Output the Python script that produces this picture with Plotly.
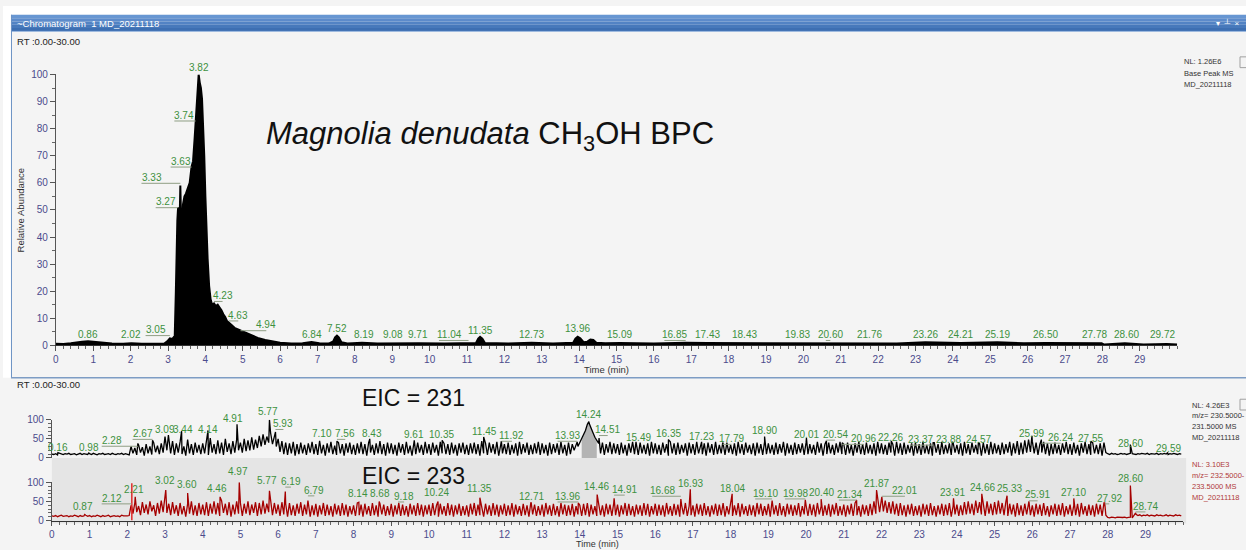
import numpy as np
import plotly.graph_objects as go

W, H = 1246, 550

# ---------------- Base peak chromatogram (relative abundance, %) ----------------
bpc_time = [
    0.00, 0.20, 0.40, 0.55, 0.70, 0.86, 1.00, 1.20, 1.50, 1.80,
    2.02, 2.30, 2.60, 2.90, 2.98, 3.05, 3.12, 3.18, 3.21, 3.23,
    3.25, 3.27, 3.29, 3.31, 3.33, 3.35, 3.37, 3.40, 3.44, 3.48,
    3.53, 3.58, 3.63, 3.67, 3.71, 3.74, 3.77, 3.80, 3.82, 3.85,
    3.88, 3.91, 3.94, 3.97, 4.00, 4.03, 4.06, 4.10, 4.14, 4.18,
    4.23, 4.28, 4.33, 4.38, 4.43, 4.48, 4.53, 4.58, 4.63, 4.70,
    4.78, 4.86, 4.94, 5.05, 5.20, 5.40, 5.60, 5.80, 6.00, 6.30,
    6.60, 6.84, 7.05, 7.30, 7.42, 7.47, 7.52, 7.57, 7.64, 7.80,
    8.19, 8.60, 9.08, 9.71, 10.40, 11.04, 11.24, 11.30, 11.35, 11.41,
    11.48, 12.10, 12.73, 13.30, 13.84, 13.90, 13.96, 14.03, 14.12, 14.22,
    14.30, 14.38, 14.46, 14.70, 15.09, 16.00, 16.85, 17.43, 18.43, 19.20,
    19.83, 20.60, 21.76, 22.50, 23.26, 24.21, 25.19, 25.90, 26.50, 27.20,
    27.78, 27.98, 28.05, 28.60, 29.10, 29.72, 30.00,
]
bpc_abund = [
    0.6, 0.5, 0.8, 1.2, 1.4, 1.5, 1.3, 1.0, 0.7, 0.6,
    0.8, 0.6, 0.6, 0.7, 1.5, 2.6, 2.4, 3.5, 20, 44,
    46, 51, 42, 45, 59, 46, 40, 52, 55, 56,
    58, 60, 66, 68, 76, 83, 90, 97, 100, 97,
    95, 91, 82, 70, 55, 42, 32, 22, 17, 15,
    15.5, 14.5, 15, 14, 13, 11.5, 10.5, 9, 8.5, 7.5,
    6.5, 6, 5.6, 5, 4, 2.8, 2, 1.4, 1.0, 0.7,
    0.8, 1.3, 0.8, 0.7, 1.5, 3, 3.6, 3, 1.2, 0.7,
    1.0, 0.7, 0.8, 0.8, 0.7, 0.9, 0.9, 2.5, 3.2, 2.5,
    0.9, 0.7, 1.0, 0.7, 1.0, 2.5, 3.2, 2.6, 1.2, 1.4,
    2.2, 2.0, 1.0, 0.8, 0.9, 0.7, 1.0, 0.9, 0.9, 0.7,
    0.9, 0.9, 0.8, 0.7, 1.2, 0.9, 1.2, 0.8, 0.9, 0.8,
    0.9, 0.8, 0.3, 0.8, 0.3, 0.5, 0.3,
]
bpc_label_rt = [0.86, 2.02, 3.05, 3.27, 3.33, 3.63, 3.74, 3.82, 4.23, 4.63, 4.94, 6.84,
                7.52, 8.19, 9.08, 9.71, 11.04, 11.35, 12.73, 13.96, 15.09, 16.85, 17.43,
                18.43, 19.83, 20.60, 21.76, 23.26, 24.21, 25.19, 26.50, 27.78, 28.60, 29.72]
bpc_label_x = [0.86, 2.02, 2.67, 2.94, 2.56, 3.34, 3.44, 3.82, 4.46, 4.88, 5.63, 6.84,
               7.52, 8.25, 9.03, 9.70, 10.52, 11.35, 12.73, 13.96, 15.09, 16.55, 17.43,
               18.43, 19.83, 20.72, 21.76, 23.26, 24.19, 25.18, 26.48, 27.78, 28.64, 29.62]
bpc_label_y = [4, 4, 5.8, 53, 62, 68, 85, 102.5, 18.4, 11.2, 7.6, 4,
               6.1, 4, 4, 4, 4, 5.4, 4, 6.1, 4, 4, 4,
               4, 4, 4, 4, 4, 4, 4, 4, 4, 4, 4]

# ---------------- Extracted ion chromatograms (scans every 0.05 min) ----------------
eic_time = np.round(np.arange(600) * 0.05, 2)

# m/z 230.5-231.5, one row per minute
eic231_noise = [
    10, 9, 11, 8, 12, 10, 9, 11, 10, 12, 9, 10, 11, 8, 10, 12, 9, 11, 10, 9,
    11, 9, 12, 10, 8, 11, 10, 12, 9, 10, 11, 9, 12, 10, 9, 11, 10, 12, 9, 11,
    10, 8, 30, 12, 26, 8, 34, 14, 28, 6, 36, 12, 30, 9, 40, 15, 32, 10, 38, 14,
    56, 20, 50, 12, 44, 8, 38, 14, 42, 10, 30, 6, 48, 12, 36, 8, 40, 14, 34, 10,
    38, 12, 44, 8, 52, 14, 36, 10, 46, 12, 40, 8, 50, 16, 38, 10, 44, 14, 48, 20,
    40, 14, 50, 18, 46, 20, 54, 22, 48, 26, 58, 30, 62, 34, 56, 40, 66, 36, 62, 30,
    50, 16, 44, 10, 40, 8, 38, 12, 42, 6, 36, 10, 40, 12, 34, 8, 38, 14, 42, 10,
    36, 8, 40, 12, 34, 6, 38, 14, 42, 10, 32, 8, 40, 12, 36, 6, 38, 14, 40, 10,
    34, 8, 38, 12, 42, 10, 36, 6, 40, 14, 34, 8, 38, 12, 44, 10, 36, 6, 40, 12,
    38, 10, 34, 6, 40, 14, 36, 8, 42, 12, 32, 6, 38, 10, 40, 14, 34, 8, 42, 12,
    36, 8, 40, 14, 34, 6, 42, 12, 38, 10, 36, 8, 40, 12, 34, 6, 38, 14, 40, 10,
    34, 8, 38, 12, 40, 10, 36, 6, 44, 12, 38, 8, 40, 14, 36, 10, 42, 6, 38, 12,
    36, 10, 40, 8, 34, 12, 38, 6, 42, 10, 36, 14, 40, 8, 34, 10, 38, 12, 42, 8,
    38, 12, 34, 6, 40, 10, 36, 14, 38, 8, 42, 12, 34, 6, 40, 10, 36, 20, 38, 30,
    40, 48, 58, 72, 88, 90, 80, 66, 54, 44, 38, 12, 40, 8, 36, 14, 42, 10, 38, 12,
    36, 8, 40, 12, 34, 6, 38, 14, 42, 10, 36, 8, 40, 12, 34, 10, 38, 6, 42, 12,
    38, 10, 34, 8, 40, 14, 36, 6, 42, 12, 38, 8, 40, 10, 34, 14, 38, 6, 40, 12,
    36, 8, 42, 12, 34, 10, 38, 6, 40, 14, 36, 8, 42, 10, 34, 12, 38, 8, 40, 14,
    34, 10, 38, 6, 42, 12, 36, 8, 40, 14, 34, 10, 38, 6, 40, 12, 36, 8, 42, 10,
    38, 12, 34, 8, 40, 10, 36, 14, 42, 6, 38, 12, 34, 8, 40, 10, 36, 14, 38, 8,
    40, 10, 36, 12, 34, 8, 42, 14, 38, 6, 36, 10, 40, 12, 34, 8, 38, 14, 42, 10,
    36, 8, 40, 12, 34, 6, 38, 14, 42, 10, 36, 8, 40, 12, 34, 10, 38, 6, 42, 12,
    38, 10, 34, 8, 40, 14, 36, 6, 42, 12, 38, 8, 40, 10, 34, 14, 38, 6, 40, 12,
    36, 8, 42, 12, 34, 10, 38, 6, 40, 14, 36, 8, 42, 10, 34, 12, 38, 8, 40, 14,
    34, 10, 38, 6, 42, 12, 36, 8, 40, 14, 34, 10, 38, 6, 40, 12, 36, 8, 42, 10,
    38, 12, 34, 8, 40, 10, 36, 14, 42, 6, 38, 12, 44, 8, 40, 10, 46, 14, 48, 16,
    44, 12, 40, 8, 36, 14, 42, 10, 38, 6, 36, 10, 40, 12, 34, 8, 38, 14, 42, 10,
    36, 8, 40, 12, 34, 6, 38, 14, 42, 10, 36, 8, 40, 12, 34, 10, 38, 6, 40, 14,
    11, 9, 12, 10, 11, 9, 10, 12, 10, 11, 9, 10, 12, 11, 10, 9, 11, 10, 12, 10,
    10, 12, 9, 11, 10, 10, 12, 9, 11, 10, 12, 10, 9, 11, 10, 12, 10, 9, 11, 10,
]
eic231_peak_rt = [0.16, 0.98, 2.28, 2.67, 3.09, 3.44, 4.14, 4.91, 5.77, 5.93, 7.10, 7.56,
                  8.43, 9.61, 10.35, 11.45, 11.92, 13.93, 14.24, 14.51, 15.49, 16.35, 17.23,
                  17.79, 18.90, 20.01, 20.54, 20.96, 22.26, 23.37, 23.88, 24.57, 25.99,
                  26.24, 27.55, 28.60, 29.59]
eic231_peak_height = [14, 13, 38, 46, 60, 70, 72, 88, 100, 68, 45, 44,
                      50, 46, 46, 55, 44, 42, 95, 52, 42, 48, 42,
                      40, 56, 52, 45, 40, 44, 40, 42, 40, 58,
                      48, 44, 35, 14]
eic231_label_x = [0.16, 0.98, 1.59, 2.41, 2.99, 3.49, 4.15, 4.81, 5.74, 6.14, 7.17, 7.78,
                  8.49, 9.60, 10.32, 11.46, 12.20, 13.68, 14.24, 14.74, 15.56, 16.35, 17.22,
                  18.02, 18.89, 20.00, 20.77, 21.53, 22.25, 23.04, 23.78, 24.58, 25.98,
                  26.75, 27.54, 28.60, 29.60]
eic231_label_y = [28, 28, 46, 64, 74, 74, 74, 103, 121, 90, 64, 64,
                  64, 62, 62, 69, 59, 59, 115, 74, 54, 64, 56,
                  51, 72, 62, 62, 51, 54, 49, 49, 49, 64,
                  54, 51, 38, 26]

# m/z 232.5-233.5, one row per minute
eic233_noise = [
    12, 11, 13, 10, 12, 14, 11, 12, 13, 10, 12, 11, 14, 12, 10, 13, 11, 12, 14, 11,
    13, 10, 12, 11, 14, 12, 10, 13, 11, 12, 14, 10, 12, 13, 11, 12, 10, 14, 12, 11,
    12, 13, 40, 18, 46, 22, 38, 14, 48, 20, 42, 16, 50, 24, 40, 12, 46, 18, 52, 22,
    60, 20, 44, 14, 48, 18, 40, 12, 46, 16, 38, 10, 44, 18, 50, 14, 40, 12, 46, 16,
    42, 14, 48, 12, 44, 18, 50, 16, 46, 12, 52, 20, 44, 14, 48, 10, 42, 16, 50, 18,
    46, 12, 44, 18, 50, 14, 42, 20, 48, 12, 46, 16, 52, 18, 44, 22, 50, 14, 46, 18,
    42, 12, 48, 16, 44, 10, 46, 14, 40, 12, 44, 18, 48, 12, 42, 16, 46, 10, 40, 14,
    44, 10, 40, 16, 46, 12, 42, 14, 38, 10, 44, 16, 40, 12, 46, 14, 42, 10, 38, 16,
    40, 12, 46, 14, 42, 10, 44, 16, 38, 12, 46, 14, 40, 10, 44, 16, 42, 12, 38, 14,
    44, 10, 40, 16, 46, 12, 42, 14, 38, 10, 44, 16, 40, 12, 46, 14, 42, 10, 40, 16,
    42, 12, 46, 14, 40, 10, 44, 16, 38, 12, 46, 14, 42, 10, 40, 16, 44, 12, 38, 14,
    40, 10, 44, 16, 46, 12, 42, 14, 38, 10, 44, 16, 40, 12, 46, 14, 42, 10, 40, 16,
    44, 12, 40, 14, 46, 10, 42, 16, 38, 12, 44, 14, 40, 10, 46, 16, 42, 12, 38, 14,
    42, 10, 46, 16, 40, 12, 44, 14, 38, 10, 46, 16, 42, 12, 40, 14, 44, 10, 38, 16,
    40, 12, 44, 14, 46, 10, 42, 16, 38, 12, 46, 14, 40, 10, 44, 16, 42, 12, 46, 14,
    42, 10, 40, 16, 46, 12, 44, 14, 38, 10, 42, 16, 40, 12, 46, 14, 44, 10, 38, 16,
    44, 12, 42, 14, 40, 10, 46, 16, 38, 12, 44, 14, 42, 10, 40, 16, 46, 12, 38, 14,
    40, 10, 44, 16, 42, 12, 46, 14, 38, 10, 40, 16, 44, 12, 42, 14, 46, 10, 38, 16,
    42, 12, 40, 14, 46, 10, 44, 16, 38, 12, 42, 14, 40, 10, 46, 16, 44, 12, 38, 14,
    44, 10, 42, 16, 40, 12, 46, 14, 38, 10, 44, 16, 42, 12, 40, 14, 46, 10, 38, 16,
    40, 12, 44, 14, 42, 10, 46, 16, 38, 12, 40, 14, 44, 10, 42, 16, 46, 12, 38, 14,
    42, 10, 40, 16, 44, 12, 46, 14, 38, 10, 42, 16, 40, 12, 44, 14, 50, 18, 54, 22,
    56, 24, 52, 20, 48, 18, 50, 16, 44, 12, 46, 14, 40, 10, 42, 16, 44, 12, 38, 14,
    40, 10, 44, 16, 42, 12, 46, 14, 38, 10, 40, 16, 44, 12, 42, 14, 46, 10, 38, 16,
    42, 12, 40, 14, 48, 16, 50, 18, 44, 14, 52, 20, 48, 16, 46, 12, 50, 18, 44, 14,
    48, 16, 52, 18, 46, 14, 50, 12, 44, 16, 42, 10, 46, 14, 40, 12, 44, 16, 38, 14,
    40, 10, 44, 16, 42, 12, 46, 14, 38, 10, 40, 16, 44, 12, 42, 14, 46, 10, 38, 16,
    42, 12, 40, 14, 44, 10, 46, 16, 38, 12, 42, 14, 40, 10, 44, 16, 42, 12, 46, 14,
    8, 7, 9, 8, 7, 9, 8, 7, 8, 9, 7, 8, 9, 7, 14, 16, 13, 15, 12, 14,
    13, 15, 12, 14, 13, 12, 15, 13, 14, 12, 13, 15, 12, 14, 13, 12, 15, 13, 14, 12,
]
eic233_peak_rt = [0.87, 2.12, 2.21, 3.02, 3.60, 4.46, 4.97, 5.77, 6.19, 6.79, 8.14, 8.68,
                  9.18, 10.24, 11.35, 12.71, 13.96, 14.46, 14.91, 16.68, 16.93, 18.04,
                  19.10, 19.98, 20.40, 21.34, 21.87, 22.01, 23.91, 24.66, 25.33, 25.91,
                  27.10, 27.92, 28.60, 28.74]
eic233_peak_height = [16, 35, 62, 80, 72, 62, 100, 78, 76, 52, 48, 50,
                      44, 50, 60, 48, 46, 68, 58, 56, 82, 70,
                      52, 54, 56, 54, 80, 62, 58, 70, 65, 50,
                      58, 46, 92, 20]
eic233_label_x = [0.82, 1.59, 2.17, 3.00, 3.57, 4.37, 4.94, 5.70, 6.34, 6.96, 8.12, 8.70,
                  9.34, 10.21, 11.35, 12.72, 13.68, 14.45, 15.19, 16.19, 16.93, 18.04,
                  18.92, 19.71, 20.40, 21.14, 21.88, 22.62, 23.89, 24.68, 25.40, 26.14,
                  27.09, 28.04, 28.60, 29.00]
eic233_label_y = [36, 59, 82, 105, 95, 85, 128, 105, 103, 80, 72, 72,
                  64, 74, 85, 64, 64, 90, 82, 79, 97, 85,
                  72, 72, 74, 69, 97, 79, 74, 87, 85, 67,
                  74, 59, 110, 38]
eic233_marker_rt = 2.12

x_ticks = list(range(30))


# ---------------- geometry helpers (pixel -> paper) ----------------
def pxx(x):
    return x / W


def pxy(y):
    return 1 - y / H


TOP_X = (53, 1177)
TOP_Y = (347, 70)          # pixel rows of 0 % and 100 %
BOT_X = (49, 1183)
E231_Y = (462, 423)
E233_Y = (526, 487)


def to_paper(t, v, xpx, ypx):
    xp = xpx[0] + (xpx[1] - xpx[0]) * t / 30.0
    yp = ypx[0] + (ypx[1] - ypx[0]) * v / 100.0
    return pxx(xp), pxy(yp)


def merge(grid_t, grid_v, apex_t, apex_v):
    t = np.concatenate([np.asarray(grid_t, float), np.asarray(apex_t, float)])
    v = np.concatenate([np.asarray(grid_v, float), np.asarray(apex_v, float)])
    order = np.argsort(t, kind="stable")
    return t[order], v[order]


e231_t, e231_v = merge(eic_time, eic231_noise, eic231_peak_rt, eic231_peak_height)
e233_t, e233_v = merge(eic_time, eic233_noise, eic233_peak_rt, eic233_peak_height)

FONT = "Liberation Sans, Arial, sans-serif"
TICK_COLOR = "#4b4b8c"
LABEL_GREEN = "#3d9140"

fig = go.Figure()

# BPC trace, filled to baseline
fig.add_trace(go.Scatter(x=bpc_time, y=bpc_abund, mode="lines", xaxis="x", yaxis="y",
                         line=dict(color="black", width=2), fill="tozeroy",
                         fillcolor="black", hoverinfo="skip"))

# shaded integration area under the m/z 231 peak at 14.24 min
hump = (e231_t >= 14.05) & (e231_t <= 14.45)
fig.add_trace(go.Scatter(x=e231_t[hump], y=e231_v[hump], mode="lines", xaxis="x2", yaxis="y2",
                         line=dict(width=0), fill="tozeroy", fillcolor="#b4b4b4",
                         hoverinfo="skip"))
fig.add_trace(go.Scatter(x=e231_t, y=e231_v, mode="lines", xaxis="x2", yaxis="y2",
                         line=dict(color="black", width=1.3), hoverinfo="skip"))

fig.add_trace(go.Scatter(x=e233_t, y=e233_v, mode="lines", xaxis="x3", yaxis="y3",
                         line=dict(color="#a50000", width=1.3), hoverinfo="skip"))
# retention-time marker on the m/z 233 trace
fig.add_trace(go.Scatter(x=[eic233_marker_rt, eic233_marker_rt], y=[0, 98], mode="lines",
                         xaxis="x3", yaxis="y3", line=dict(color="#e02b2b", width=1.5),
                         hoverinfo="skip"))
fig.add_trace(go.Scatter(x=[eic233_marker_rt], y=[103], mode="markers", xaxis="x3", yaxis="y3",
                         marker=dict(symbol="triangle-down-open", size=9,
                                     line=dict(color="#e02b2b", width=1.5)),
                         cliponaxis=False, hoverinfo="skip"))

annotations = []
shapes = []


def add_labels(rts, lxs, lys, xpx, ypx, drop_px):
    per_unit = (ypx[0] - ypx[1]) / 100.0
    for rt, lx, ly in zip(rts, lxs, lys):
        ax, ay = to_paper(lx, ly, xpx, ypx)
        annotations.append(dict(x=ax, y=ay, xref="paper", yref="paper", text=f"{rt:.2f}",
                                showarrow=False, xanchor="center", yanchor="middle",
                                font=dict(family=FONT, size=10, color=LABEL_GREEN)))
        if abs(lx - rt) > 0.115:
            if rt > lx:
                x0, x1 = lx - 0.27, rt
            else:
                x0, x1 = rt, lx
            yv = ly - drop_px / per_unit
            a0, b0 = to_paper(x0, yv, xpx, ypx)
            a1, _ = to_paper(x1, yv, xpx, ypx)
            shapes.append(dict(type="line", xref="paper", yref="paper", x0=a0, x1=a1,
                               y0=b0, y1=b0, line=dict(color="#8f9e84", width=1)))


add_labels(bpc_label_rt, bpc_label_x, bpc_label_y, TOP_X, TOP_Y, 6)
add_labels(eic231_peak_rt, eic231_label_x, eic231_label_y, BOT_X, E231_Y, 6)
add_labels(eic233_peak_rt, eic233_label_x, eic233_label_y, BOT_X, E233_Y, 6)


def rect(x0, y0, x1, y1, fill, line=None, layer="below"):
    shapes.append(dict(type="rect", xref="paper", yref="paper", x0=pxx(x0), x1=pxx(x1),
                       y0=pxy(y1), y1=pxy(y0), fillcolor=fill, layer=layer,
                       line=dict(width=0) if line is None else line))


def hline(x0, x1, y, color, width=1):
    shapes.append(dict(type="line", xref="paper", yref="paper", x0=pxx(x0), x1=pxx(x1),
                       y0=pxy(y), y1=pxy(y), line=dict(color=color, width=width)))


def vline(x, y0, y1, color, width=1):
    shapes.append(dict(type="line", xref="paper", yref="paper", x0=pxx(x), x1=pxx(x),
                       y0=pxy(y0), y1=pxy(y1), line=dict(color=color, width=width)))


# window chrome
rect(0, 0, W, 9, "white")
rect(0, 0, 8, 380, "white")
title_bands = ["#6796d2", "#5c8bcb", "#5283c4", "#4779bb", "#3d6fb2"]
for i, c in enumerate(title_bands):
    rect(8, 9 + i * 3.4, W, 9 + (i + 1) * 3.4, c)
hline(8, W, 26, "#9fbbe0", 1)
vline(8.5, 9, 380, "#6b93c4", 1)
hline(8, W, 380, "#7d9cc4", 1.5)
# lower EIC panel background
rect(BOT_X[0], 462, 1186, 529, "#e5e5e5")
# small panel buttons
rect(1240, 52, 1250, 63, "rgba(0,0,0,0)", line=dict(color="#a0a0a0", width=1), layer="above")
rect(1240, 402, 1250, 413, "rgba(0,0,0,0)", line=dict(color="#a0a0a0", width=1), layer="above")


def text(x, y, s, size, color="#222", anchor="left", angle=0, family=FONT):
    annotations.append(dict(x=pxx(x), y=pxy(y), xref="paper", yref="paper", text=s,
                            showarrow=False, xanchor=anchor, yanchor="middle",
                            textangle=angle,
                            font=dict(family=family, size=size, color=color)))


text(12, 17.5, "~Chromatogram  1 MD_20211118", 9.5, "white")
text(1242, 17.5, "▾  ┴  ×", 8, "white", anchor="right")
text(12, 36, "RT :0.00-30.00", 9.5)
text(12, 387, "RT :0.00-30.00", 9.5)

text(262, 133, "<i>Magnolia denudata</i> CH<sub>3</sub>OH BPC", 31, "#111")
text(358, 401, "EIC = 231", 23, "#111")
text(358, 480, "EIC = 233", 23, "#111")

text(18, 208, "Relative Abundance", 9.5, "#333", anchor="center", angle=-90)
text(605, 372, "Time (min)", 9.5, "#333", anchor="center")
text(596, 550, "Time (min)", 9, "#333", anchor="center")

for i, s in enumerate(["NL: 1.26E6", "Base Peak MS", "MD_20211118"]):
    text(1182, 57 + i * 11.5, s, 7.5, "#333")
for i, s in enumerate(["NL: 4.26E3", "m/z= 230.5000-", "231.5000 MS", "MD_20211118"]):
    text(1190, 408 + i * 11, s, 7.5, "#333")
for i, s in enumerate(["NL: 3.10E3", "m/z= 232.5000-", "233.5000 MS", "MD_20211118"]):
    text(1190, 469 + i * 11, s, 7.5, "#b03a3a")

tickfont = dict(family=FONT, size=10, color=TICK_COLOR)


def xaxis(xpx, anchor, visible=True, ticklen=5):
    return dict(domain=[pxx(xpx[0]), pxx(xpx[1])], range=[0, 30], anchor=anchor,
                tickmode="array", tickvals=x_ticks, ticks="outside", ticklen=ticklen,
                tickcolor="#555", showline=True, linecolor="#333", linewidth=1,
                showgrid=False, zeroline=False, tickfont=tickfont, fixedrange=True,
                visible=visible,
                minor=dict(tickmode="linear", tick0=0, dtick=0.2, ticks="outside",
                           ticklen=3, tickcolor="#666", showgrid=False))


def yaxis(ypx, anchor, major, minor_step):
    return dict(domain=[pxy(ypx[0]), pxy(ypx[1])], range=[0, 100], anchor=anchor,
                tickmode="array", tickvals=major, ticks="outside", ticklen=5,
                tickcolor="#555", showline=True, linecolor="#555", linewidth=1,
                showgrid=False, zeroline=False, tickfont=tickfont, fixedrange=True,
                minor=dict(tickmode="linear", tick0=0, dtick=minor_step, ticks="outside",
                           ticklen=3, tickcolor="#666", showgrid=False))


fig.update_layout(
    width=W, height=H, margin=dict(l=0, r=0, t=0, b=0),
    paper_bgcolor="#f4f4f4", plot_bgcolor="rgba(0,0,0,0)",
    showlegend=False, hovermode=False,
    xaxis=xaxis(TOP_X, "y"),
    yaxis=yaxis(TOP_Y, "x", list(range(0, 101, 10)), 5),
    xaxis2=xaxis(BOT_X, "y2", visible=False),
    yaxis2=yaxis(E231_Y, "x2", [0, 50, 100], 10),
    xaxis3=xaxis(BOT_X, "y3", ticklen=4),
    yaxis3=yaxis(E233_Y, "x3", [0, 50, 100], 10),
    annotations=annotations,
    shapes=shapes,
)

fig.write_html("out.html")
